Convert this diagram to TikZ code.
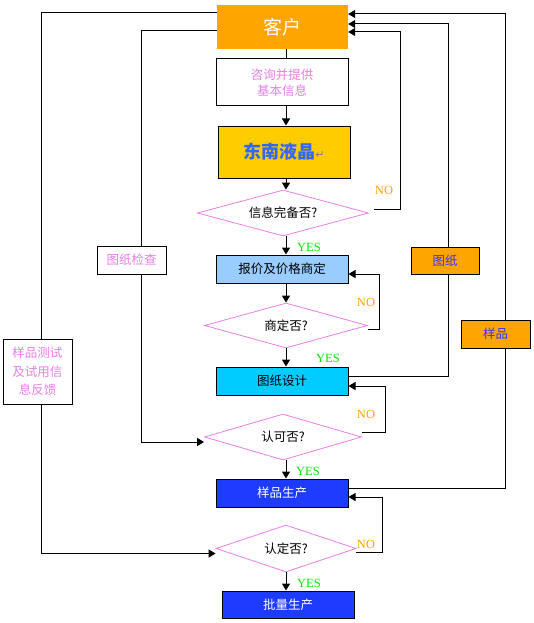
\documentclass[tikz,border=0pt]{standalone}
\usepackage{fontspec}
\setmainfont{Liberation Serif}
\newfontfamily\cjk{Noto Sans CJK SC}
\newfontfamily\sym{DejaVu Sans}
\usetikzlibrary{arrows.meta,shapes.geometric}
\definecolor{kehuor}{RGB}{255,165,0}
\definecolor{dnyel}{RGB}{255,204,0}
\definecolor{lblue}{RGB}{153,204,255}
\definecolor{cyanb}{RGB}{0,204,255}
\definecolor{dblue}{RGB}{30,60,255}
\definecolor{pinkt}{RGB}{230,128,230}
\definecolor{bluet}{RGB}{51,51,255}
\definecolor{dntext}{RGB}{51,102,255}
\definecolor{yesg}{RGB}{0,230,0}
\begin{document}
\begin{tikzpicture}[x=1pt,y=-1pt,
  line/.style={draw=black,line width=1pt},
  arr/.style={line,-{Triangle[length=7pt,width=8pt]}},
  box/.style={draw=black,line width=1pt,minimum width=132pt,inner sep=0pt,font=\cjk\fontsize{12.5}{16}\selectfont,align=center},
  dia/.style={diamond,aspect=3.6,draw=pinkt,line width=0.8pt,inner sep=0pt,font=\cjk\fontsize{12.5}{15}\selectfont},
  side/.style={draw=black,line width=1pt,fill=white,inner sep=0pt,minimum width=69pt,font=\cjk\fontsize{12.5}{18.5}\selectfont,align=center},
  yes/.style={text=yesg,font=\fontsize{12.5}{12}\selectfont,inner sep=0pt},
  no/.style={text=kehuor,font=\fontsize{12.5}{12}\selectfont,inner sep=0pt}]
\useasboundingbox (0,0) rectangle (534,623);
% main nodes
\node[fill=kehuor,minimum width=131pt,minimum height=44pt,inner sep=0pt,text=white,font=\cjk\fontsize{19}{19}\selectfont] (kehu) at (282.5,27) {客户};
\node[box,fill=white,minimum height=47pt,text=pinkt] (zixun) at (282,82.5) {咨询并提供\\基本信息};
\node[box,fill=dnyel,minimum height=52pt,text=dntext,font=\cjk\bfseries\fontsize{18}{18}\selectfont] (dongnan) at (284,152) {东南液晶{\sym\mdseries\color{gray}\fontsize{11}{11}\selectfont ↵}};
\node[dia,minimum width=171pt,minimum height=46pt] (d1) at (283,213) {信息完备否?};
\node[box,fill=lblue,minimum height=28pt] (baojia) at (282,269) {报价及价格商定};
\node[dia,minimum width=163pt,minimum height=45pt] (d2) at (286,325.5) {商定否?};
\node[box,fill=cyanb,minimum height=28pt] (tuzhi) at (282,381) {图纸设计};
\node[dia,minimum width=157pt,minimum height=46pt] (d3) at (283,437) {认可否?};
\node[box,fill=dblue,minimum height=28pt,text=white] (yangpin) at (282,493) {样品生产};
\node[dia,minimum width=140pt,minimum height=47pt] (d4) at (286,548.5) {认定否?};
\node[box,fill=dblue,minimum height=27pt,text=white] (piliang) at (288,604.5) {批量生产};
% helper coordinates
\coordinate (sp) at (286,0);
\coordinate (r1) at (400,32);
\coordinate (r2) at (448,24);
\coordinate (r3) at (505,14);
\coordinate (r4) at (379,274);
\coordinate (r5) at (385,386);
\coordinate (r6) at (382,497);
\coordinate (l1) at (41,13);
\coordinate (l2) at (141,31);
% main flow
\draw[line] (kehu.south -| sp) -- (zixun.north -| sp);
\draw[arr] (zixun.south -| sp) -- (dongnan.north -| sp);
\draw[arr] (dongnan.south -| sp) -- (d1.north -| sp);
\draw[arr] (d1.south -| sp) -- (baojia.north -| sp);
\draw[arr] (baojia.south -| sp) -- (d2.north -| sp);
\draw[arr] (d2.south -| sp) -- (tuzhi.north -| sp);
\draw[arr] (d3.south -| sp) -- (yangpin.north -| sp);
\draw[arr] (d4.south -| sp) -- (piliang.north -| sp);
% feedback loops
\draw[arr] ([xshift=5pt,yshift=4pt]d1.east) -| (r1) -- (r1 -| kehu.east);
\draw[arr] ([yshift=5pt]tuzhi.east) -| (r2) -- (r2 -| kehu.east);
\draw[arr] ([yshift=5pt]yangpin.east) -| (r3) -- (r3 -| kehu.east);
\draw[arr] ([yshift=-4pt]d2.east) -| (r4) -- (r4 -| baojia.east);
\draw[arr] ([yshift=5pt]d3.east) -| (r5) -- (r5 -| tuzhi.east);
\draw[arr] ([yshift=-4pt]d4.east) -| (r6) -- (r6 -| yangpin.east);
\draw[arr] (l1 -| kehu.west) -- (l1) |- ([yshift=-5pt]d4.west);
\draw[arr] (l2 -| kehu.west) -- (l2) |- ([yshift=-5pt]d3.west);
% side labels on lines
\node[side,minimum height=28pt,text=pinkt] (jiancha) at (131.5,260) {图纸检查};
\node[side,minimum height=65pt,text=pinkt] (fankui) at (37.5,371.5) {样品测试\\及试用信\\息反馈};
\node[side,fill=kehuor,minimum height=27pt,minimum width=68pt,text=bluet] (tz) at (445,260.5) {图纸};
\node[side,fill=kehuor,minimum height=28pt,text=bluet] (yp) at (495.5,334) {样品};
% yes / no labels
\node[no] (no1) at (384,190) {NO};
\node[yes] (yes1) at (309,247) {YES};
\node[no] (no2) at (366,302) {NO};
\node[yes] (yes2) at (328,358) {YES};
\node[no] (no3) at (366,414) {NO};
\node[yes] (yes3) at (308,471) {YES};
\node[no] (no4) at (366,544) {NO};
\node[yes] (yes4) at (309,583) {YES};
\end{tikzpicture}
\end{document}
